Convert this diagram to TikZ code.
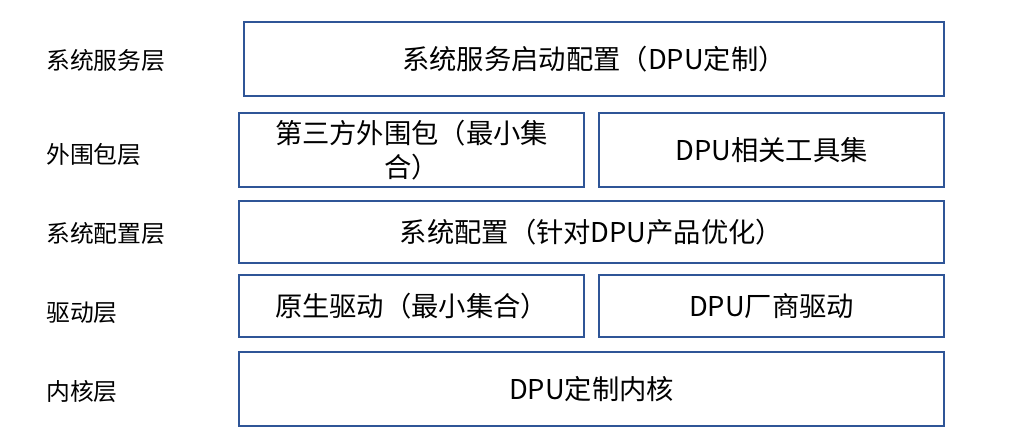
\documentclass[tikz,border=0pt]{standalone}
\usepackage{fontspec}
\setmainfont{Noto Sans CJK SC}
\definecolor{boxblue}{HTML}{2F5597}
\begin{document}
\begin{tikzpicture}[x=1pt,y=-1pt,
  box/.style={draw=boxblue, line width=2pt, rectangle, inner sep=0pt, anchor=north west, align=center, font=\fontsize{27.3}{34}\selectfont},
  lbl/.style={anchor=west, inner sep=0pt, font=\fontsize{23.8}{28}\selectfont}]
\useasboundingbox (0,0) rectangle (1009,447);
\node[box, minimum width=700pt, minimum height=74pt] (svc) at (243,21) {系统服务启动配置（DPU定制）};
\node[box, minimum width=345pt, minimum height=74pt] (pkg) at (238,112) {第三方外围包（最小集\\合）};
\node[box, minimum width=345pt, minimum height=74pt] (tools) at (598,112) {DPU相关工具集};
\node[box, minimum width=705pt, minimum height=62pt] (cfg) at (238,200) {系统配置（针对DPU产品优化）};
\node[box, minimum width=345pt, minimum height=62pt] (drv) at (238,274) {原生驱动（最小集合）};
\node[box, minimum width=345pt, minimum height=62pt] (vdrv) at (598,274) {DPU厂商驱动};
\node[box, minimum width=705pt, minimum height=74pt] (kern) at (238,351) {DPU定制内核};
\node[lbl] (l1) at (46,61) {系统服务层};
\node[lbl] (l2) at (46,155) {外围包层};
\node[lbl] (l3) at (46,234) {系统配置层};
\node[lbl] (l4) at (46,313) {驱动层};
\node[lbl] (l5) at (46,392) {内核层};
\end{tikzpicture}
\end{document}
